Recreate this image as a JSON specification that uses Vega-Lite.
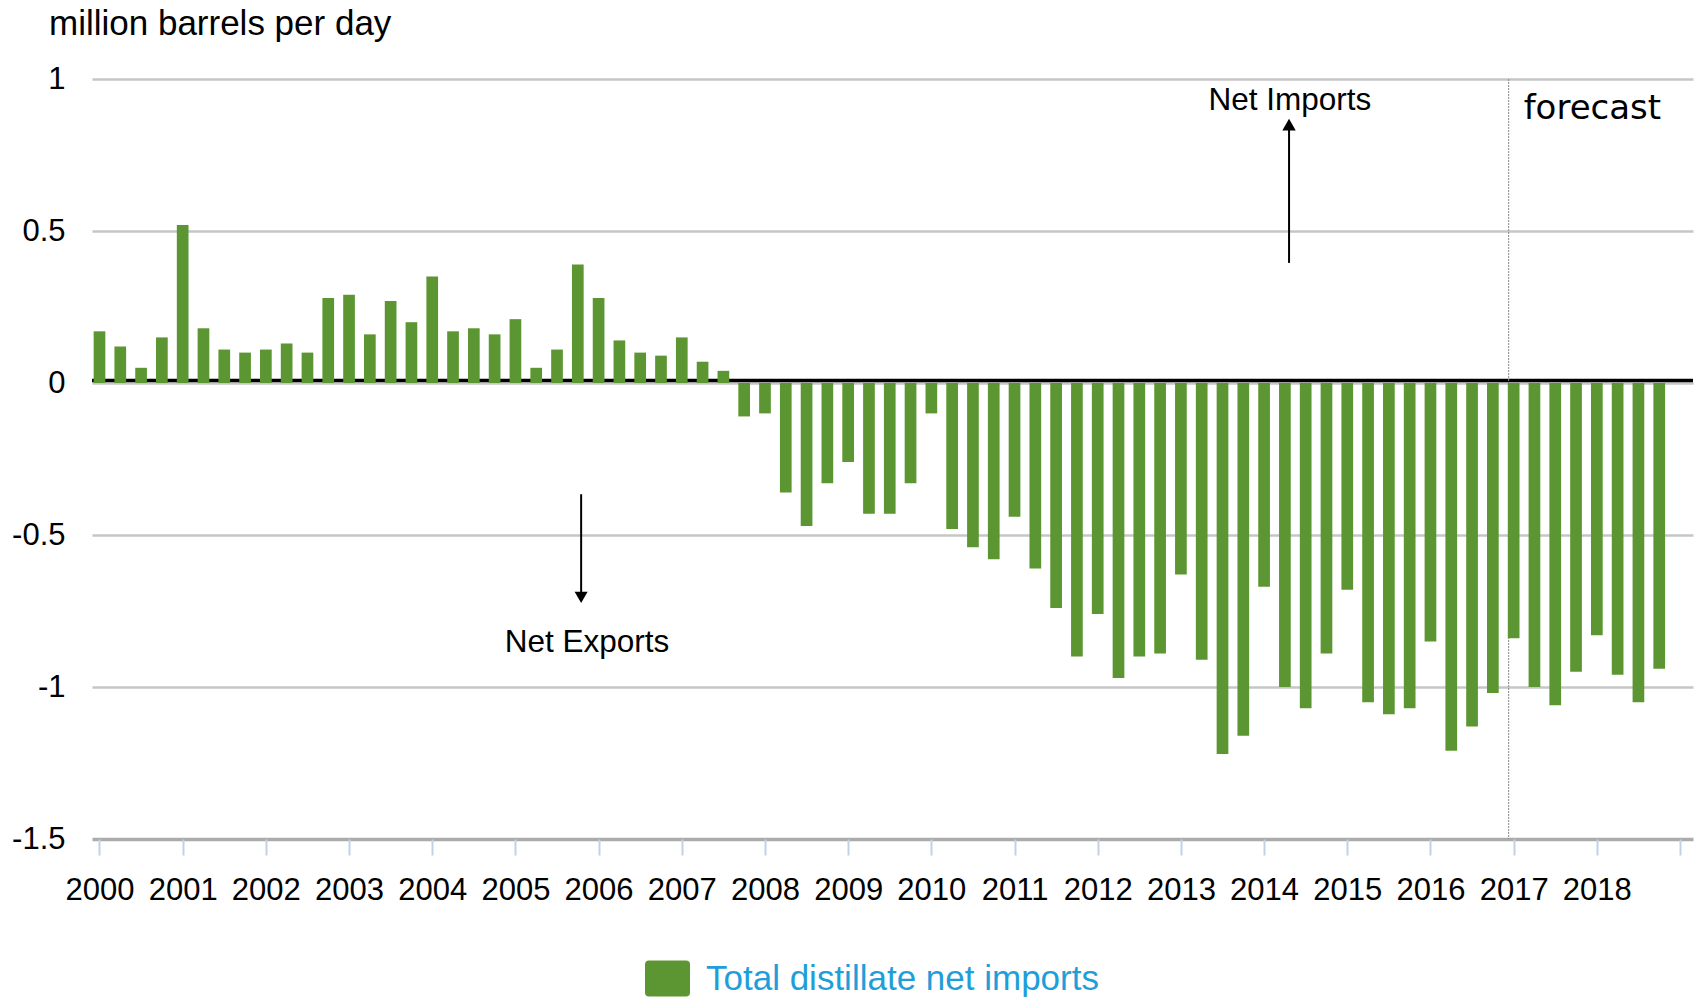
{
  "$schema": "https://vega.github.io/schema/vega-lite/v6.json",
  "width": 1601,
  "height": 760,
  "autosize": {"type": "none"},
  "padding": {"left": 92, "top": 79, "right": 3, "bottom": 162},
  "background": "white",
  "title": {
    "text": "million barrels per day",
    "anchor": "start",
    "frame": "group",
    "dx": -43,
    "offset": 21,
    "fontSize": 35,
    "font": "Liberation Sans",
    "fontWeight": "normal",
    "color": "#000000"
  },
  "config": {"view": {"stroke": null}, "font": "Liberation Sans"},
  "layer": [
    {
      "data": {"values": [{}]},
      "mark": {"type": "rule", "color": "#000000", "strokeWidth": 3.5, "yOffset": -2.5},
      "encoding": {"y": {"datum": 0, "type": "quantitative"}}
    },
    {
      "data": {"values": [{}]},
      "mark": {"type": "rule", "color": "#8a8a8a", "strokeWidth": 1, "strokeDash": [2, 1]},
      "encoding": {"x": {"datum": 2016.94, "type": "quantitative"}}
    },
    {
      "data": {
        "values": [
          {"t": 2000.0, "v": 0.17}, {"t": 2000.25, "v": 0.12}, {"t": 2000.5, "v": 0.05}, {"t": 2000.75, "v": 0.15},
          {"t": 2001.0, "v": 0.52}, {"t": 2001.25, "v": 0.18}, {"t": 2001.5, "v": 0.11}, {"t": 2001.75, "v": 0.10},
          {"t": 2002.0, "v": 0.11}, {"t": 2002.25, "v": 0.13}, {"t": 2002.5, "v": 0.10}, {"t": 2002.75, "v": 0.28},
          {"t": 2003.0, "v": 0.29}, {"t": 2003.25, "v": 0.16}, {"t": 2003.5, "v": 0.27}, {"t": 2003.75, "v": 0.20},
          {"t": 2004.0, "v": 0.35}, {"t": 2004.25, "v": 0.17}, {"t": 2004.5, "v": 0.18}, {"t": 2004.75, "v": 0.16},
          {"t": 2005.0, "v": 0.21}, {"t": 2005.25, "v": 0.05}, {"t": 2005.5, "v": 0.11}, {"t": 2005.75, "v": 0.39},
          {"t": 2006.0, "v": 0.28}, {"t": 2006.25, "v": 0.14}, {"t": 2006.5, "v": 0.10}, {"t": 2006.75, "v": 0.09},
          {"t": 2007.0, "v": 0.15}, {"t": 2007.25, "v": 0.07}, {"t": 2007.5, "v": 0.04}, {"t": 2007.75, "v": -0.11},
          {"t": 2008.0, "v": -0.10}, {"t": 2008.25, "v": -0.36}, {"t": 2008.5, "v": -0.47}, {"t": 2008.75, "v": -0.33},
          {"t": 2009.0, "v": -0.26}, {"t": 2009.25, "v": -0.43}, {"t": 2009.5, "v": -0.43}, {"t": 2009.75, "v": -0.33},
          {"t": 2010.0, "v": -0.10}, {"t": 2010.25, "v": -0.48}, {"t": 2010.5, "v": -0.54}, {"t": 2010.75, "v": -0.58},
          {"t": 2011.0, "v": -0.44}, {"t": 2011.25, "v": -0.61}, {"t": 2011.5, "v": -0.74}, {"t": 2011.75, "v": -0.90},
          {"t": 2012.0, "v": -0.76}, {"t": 2012.25, "v": -0.97}, {"t": 2012.5, "v": -0.90}, {"t": 2012.75, "v": -0.89},
          {"t": 2013.0, "v": -0.63}, {"t": 2013.25, "v": -0.91}, {"t": 2013.5, "v": -1.22}, {"t": 2013.75, "v": -1.16},
          {"t": 2014.0, "v": -0.67}, {"t": 2014.25, "v": -1.00}, {"t": 2014.5, "v": -1.07}, {"t": 2014.75, "v": -0.89},
          {"t": 2015.0, "v": -0.68}, {"t": 2015.25, "v": -1.05}, {"t": 2015.5, "v": -1.09}, {"t": 2015.75, "v": -1.07},
          {"t": 2016.0, "v": -0.85}, {"t": 2016.25, "v": -1.21}, {"t": 2016.5, "v": -1.13}, {"t": 2016.75, "v": -1.02},
          {"t": 2017.0, "v": -0.84}, {"t": 2017.25, "v": -1.00}, {"t": 2017.5, "v": -1.06}, {"t": 2017.75, "v": -0.95},
          {"t": 2018.0, "v": -0.83}, {"t": 2018.25, "v": -0.96}, {"t": 2018.5, "v": -1.05}, {"t": 2018.75, "v": -0.94}
        ]
      },
      "mark": {"type": "bar", "width": 11.7},
      "encoding": {
        "x": {
          "field": "t",
          "type": "quantitative",
          "scale": {"domain": [1999.91, 2019.156], "nice": false, "zero": false, "padding": 0},
          "axis": {
            "values": [2000, 2001, 2002, 2003, 2004, 2005, 2006, 2007, 2008, 2009, 2010, 2011, 2012, 2013, 2014, 2015, 2016, 2017, 2018, 2019],
            "labelExpr": "datum.value < 2019 ? '' + datum.value : ''",
            "title": null,
            "domain": false,
            "grid": false,
            "ticks": true,
            "tickColor": "#c3d1e2",
            "tickWidth": 2,
            "tickSize": 16,
            "labelFontSize": 31,
            "labelColor": "#000000",
            "labelPadding": 20,
            "labelFont": "Liberation Sans"
          }
        },
        "y": {
          "field": "v",
          "type": "quantitative",
          "scale": {"domain": [-1.5, 1], "nice": false},
          "axis": {
            "values": [-1.5, -1, -0.5, 0, 0.5, 1],
            "labelExpr": "'' + datum.value",
            "title": null,
            "domain": false,
            "ticks": false,
            "grid": true,
            "gridColor": {"condition": {"test": "datum.value === -1.5", "value": "#ababab"}, "value": "#c6c6c6"},
            "gridWidth": {"condition": {"test": "datum.value === -1.5", "value": 3.5}, "value": 2.5},
            "labelFontSize": 31,
            "labelColor": "#000000",
            "labelPadding": 27,
            "labelFont": "Liberation Sans"
          }
        },
        "y2": {"datum": 0},
        "color": {
          "datum": "Total distillate net imports",
          "type": "nominal",
          "scale": {"range": ["#5c9632"]},
          "legend": {
            "title": null,
            "orient": "none",
            "legendX": 553,
            "legendY": 877,
            "padding": 0,
            "symbolType": "M-0.82,-0.8H0.82Q1,-0.8,1,-0.62V0.62Q1,0.8,0.82,0.8H-0.82Q-1,0.8,-1,0.62V-0.62Q-1,-0.8,-0.82,-0.8Z",
            "symbolSize": 2025,
            "symbolStrokeWidth": 0,
            "symbolOpacity": 1,
            "labelFontSize": 35,
            "labelColor": "#1f9ed9",
            "labelFont": "Liberation Sans",
            "labelOffset": 16,
            "labelLimit": 1000
          }
        }
      }
    },
    {
      "data": {"values": [{}]},
      "mark": {"type": "text", "text": "Net Imports", "fontSize": 31.5, "font": "Liberation Sans", "color": "#000000", "align": "center", "baseline": "alphabetic"},
      "encoding": {"x": {"datum": 2014.31, "type": "quantitative"}, "y": {"datum": 0.897, "type": "quantitative"}}
    },
    {
      "data": {"values": [{}]},
      "mark": {"type": "rule", "color": "#000000", "strokeWidth": 2},
      "encoding": {"x": {"datum": 2014.3, "type": "quantitative"}, "y": {"datum": 0.395, "type": "quantitative"}, "y2": {"datum": 0.84}}
    },
    {
      "data": {"values": [{}]},
      "mark": {"type": "point", "shape": "triangle-up", "filled": true, "color": "#000000", "opacity": 1, "size": 180},
      "encoding": {"x": {"datum": 2014.3, "type": "quantitative"}, "y": {"datum": 0.85, "type": "quantitative"}}
    },
    {
      "data": {"values": [{}]},
      "mark": {"type": "text", "text": "Net Exports", "fontSize": 31.5, "font": "Liberation Sans", "color": "#000000", "align": "center", "baseline": "alphabetic"},
      "encoding": {"x": {"datum": 2005.86, "type": "quantitative"}, "y": {"datum": -0.885, "type": "quantitative"}}
    },
    {
      "data": {"values": [{}]},
      "mark": {"type": "rule", "color": "#000000", "strokeWidth": 2},
      "encoding": {"x": {"datum": 2005.79, "type": "quantitative"}, "y": {"datum": -0.366, "type": "quantitative"}, "y2": {"datum": -0.69}}
    },
    {
      "data": {"values": [{}]},
      "mark": {"type": "point", "shape": "triangle-down", "filled": true, "color": "#000000", "opacity": 1, "size": 170},
      "encoding": {"x": {"datum": 2005.79, "type": "quantitative"}, "y": {"datum": -0.705, "type": "quantitative"}}
    },
    {
      "data": {"values": [{}]},
      "mark": {"type": "text", "text": "forecast", "fontSize": 34, "font": "DejaVu Sans", "color": "#000000", "align": "left", "baseline": "alphabetic"},
      "encoding": {"x": {"datum": 2017.12, "type": "quantitative"}, "y": {"datum": 0.87, "type": "quantitative"}}
    }
  ]
}
